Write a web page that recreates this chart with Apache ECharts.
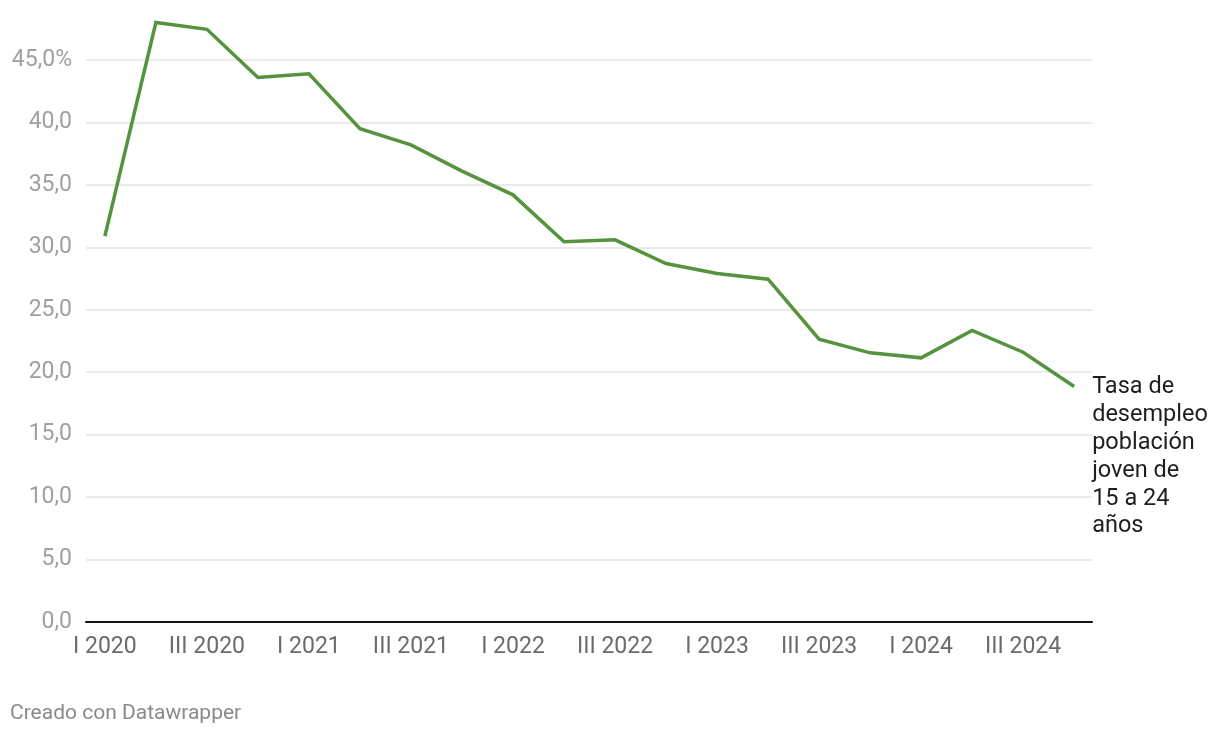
<!DOCTYPE html>
<html>
<head>
<meta charset="utf-8">
<script src="https://cdn.jsdelivr.net/npm/echarts@6/dist/echarts.min.js"></script>
<style>
html,body{margin:0;padding:0;background:#fff;}
#chart{width:1220px;height:738px;}
</style>
</head>
<body>
<div id="chart"></div>
<script>
var categories = ['I 2020','II 2020','III 2020','IV 2020','I 2021','II 2021','III 2021','IV 2021',
  'I 2022','II 2022','III 2022','IV 2022','I 2023','II 2023','III 2023','IV 2023',
  'I 2024','II 2024','III 2024','IV 2024'];
var youthUnemployment = [30.9, 48.0, 47.45, 43.6, 43.9, 39.5, 38.2, 36.1,
  34.2, 30.45, 30.6, 28.7, 27.9, 27.45, 22.65, 21.55,
  21.15, 23.35, 21.6, 18.85];
var xLabelIndices = [0, 2, 4, 6, 8, 10, 12, 14, 16, 18];
var yTicks = [0, 5, 10, 15, 20, 25, 30, 35, 40, 45];
var seriesName = 'Tasa de desempleo población joven de 15 a 24 años';
var endLabelText = 'Tasa de\ndesempleo\npoblación\njoven de\n15 a 24\naños';

var chart = echarts.init(document.getElementById('chart'), null, {renderer: 'canvas'});
var fontFamily = 'Roboto, "Noto Sans", sans-serif';
var Y_MAX = 49.5;
var seriesData = youthUnemployment.map(function (v, i) { return [i, v]; });
chart.setOption({
  animation: false,
  backgroundColor: '#ffffff',
  textStyle: {fontFamily: fontFamily},
  grid: {left: 86, right: 128, bottom: 116, height: Y_MAX * 12.49, containLabel: false},
  xAxis: {
    type: 'value',
    min: -0.37,
    max: 19.35,
    splitLine: {show: false},
    axisTick: {show: false},
    axisLine: {show: true, onZero: true, lineStyle: {color: '#111111', width: 2}, z: 10},
    axisLabel: {
      customValues: xLabelIndices,
      formatter: function (v) { return categories[Math.round(v)]; },
      color: '#6b6b6b',
      fontSize: 23,
      fontFamily: fontFamily,
      margin: 14
    }
  },
  yAxis: {
    type: 'value',
    min: 0,
    max: Y_MAX,
    axisLine: {show: false},
    axisTick: {show: false},
    splitLine: {show: false},
    axisLabel: {
      customValues: yTicks,
      color: '#a0a0a0',
      fontSize: 23,
      fontFamily: fontFamily,
      margin: 14,
      formatter: function (v) {
        var s = v.toFixed(1).replace('.', ',');
        return v === 45 ? s + '%' : s;
      }
    }
  },
  series: [{
    name: 'grid',
    type: 'line',
    data: seriesData,
    showSymbol: false,
    symbol: 'none',
    lineStyle: {opacity: 0},
    silent: true,
    z: 1,
    markLine: {
      silent: true,
      symbol: 'none',
      label: {show: false},
      lineStyle: {color: '#e3e3e3', width: 1.5, type: 'solid'},
      data: yTicks.filter(function (t) { return t > 0; }).map(function (t) { return {yAxis: t}; })
    }
  }, {
    name: seriesName,
    type: 'line',
    data: seriesData,
    showSymbol: false,
    symbol: 'none',
    lineStyle: {color: '#55933f', width: 3.5, join: 'miter'},
    itemStyle: {color: '#55933f'},
    z: 5,
    endLabel: {
      show: true,
      formatter: function () { return endLabelText; },
      color: '#1e1e1e',
      fontSize: 23.5,
      lineHeight: 27.8,
      fontFamily: fontFamily,
      align: 'left',
      verticalAlign: 'top',
      distance: 18,
      offset: [0, -13]
    }
  }],
  graphic: [{
    type: 'text',
    left: 10,
    top: 703,
    style: {
      text: 'Creado con Datawrapper',
      fill: '#8a8a8a',
      fontSize: 21,
      fontFamily: fontFamily
    }
  }]
});
</script>
</body>
</html>
